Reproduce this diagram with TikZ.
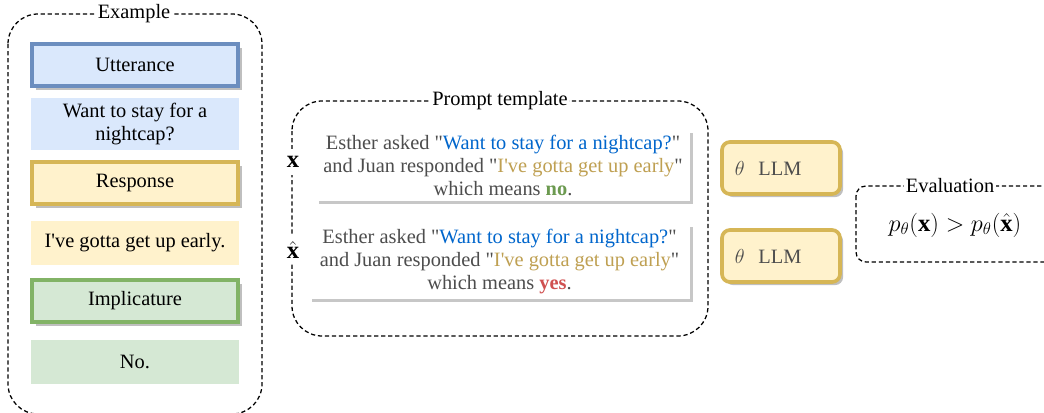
\documentclass[tikz,border=0pt]{standalone}
\usepackage{amsmath, amssymb}
\usepackage{fontspec}
\setmainfont{Liberation Serif}[Ligatures=TeXOff]
\usepackage{xcolor}
\usepackage{tikz}
\usetikzlibrary{shadows}

\definecolor{bluefill}{HTML}{DAE8FC}
\definecolor{blueline}{HTML}{6C8EBF}
\definecolor{goldfill}{HTML}{FFF2CC}
\definecolor{goldline}{HTML}{D6B656}
\definecolor{greenfill}{HTML}{D5E8D4}
\definecolor{greenline}{HTML}{82B366}
\definecolor{qblue}{HTML}{0066CC}
\definecolor{qgold}{RGB}{191,160,82}
\definecolor{qgreen}{RGB}{108,154,80}
\definecolor{qred}{RGB}{208,80,80}
\definecolor{qgray}{RGB}{77,77,77}

\tikzset{
  hdr/.style={draw=#1line, fill=#1fill, line width=2.6pt, minimum width=5.15cm, minimum height=1.05cm,
    drop shadow={shadow xshift=2.8pt, shadow yshift=-2.8pt, fill=black!25, opacity=1}},
  txt/.style={fill=#1fill, minimum width=5.2cm, minimum height=1.1cm, align=center},
  panel/.style={fill=white, text=qgray, align=center,
    drop shadow={shadow xshift=2.2pt, shadow yshift=-2.2pt, fill=black!22, opacity=1}},
  llm/.style={draw=goldline, fill=goldfill, line width=2.6pt, rounded corners=0.2cm,
    minimum width=2.95cm, minimum height=1.3cm, text width=2.3cm, align=left, text=qgray,
    drop shadow={shadow xshift=2.2pt, shadow yshift=-2.2pt, fill=black!25, opacity=1}},
  grp/.style={dashed, dash pattern=on 3pt off 2pt, line width=0.9pt},
  tag/.style={fill=white, inner sep=1pt},
  big/.style={font=\fontsize{17.5}{20}\selectfont},
}

\begin{document}
\begin{tikzpicture}[x=0.025cm, y=-0.025cm, font=\fontsize{14.5}{16.5}\selectfont]
		\useasboundingbox (0,0) rectangle (1044,413);
		% example column
		\draw[grp, rounded corners=0.75cm] (8,14) rectangle (262,414);
		\node[tag] (ex) at (134,14) {Example};
		\node[hdr=blue] (utt) at (135,65) {Utterance};
		\node[txt=blue] (utttxt) at (135,124) {Want to stay for a\\nightcap?};
		\node[hdr=gold] (resp) at (135,183) {Response};
		\node[txt=gold] (resptxt) at (135,243) {I've gotta get up early.};
		\node[hdr=green] (impl) at (135,301) {Implicature};
		\node[txt=green] (impltxt) at (135,362) {No.};
		%
		% prompt template
		\draw[grp, rounded corners=0.75cm] (292,101) rectangle (708,336);
		\node[tag] (pt) at (500,101) {Prompt template};
		\node[panel, minimum width=9.35cm, minimum height=1.775cm] (p1) at (503,165.5)
		{Esther asked "\textcolor{qblue}{Want to stay for a nightcap?}"\\
		 and Juan responded "\textcolor{qgold}{I've gotta get up early}"\\
		 which means \textcolor{qgreen}{\textbf{no}}.};
		\node[panel, minimum width=9.525cm, minimum height=1.825cm] (p2) at (499.5,261.5)
		{Esther asked "\textcolor{qblue}{Want to stay for a nightcap?}"\\
		 and Juan responded "\textcolor{qgold}{I've gotta get up early}"\\
		 which means \textcolor{qred}{\textbf{yes}}.};
		\node[tag, big, inner ysep=5pt] (x) at (293,162) {$\mathbf{x}$};
		\node[tag, big, inner ysep=4pt] (xh) at (293,250) {$\hat{\mathbf{x}}$};
		%
		% models
		\node[llm] (m1) at (781,168) {$\theta$\ \ LLM};
		\node[llm] (m2) at (781,256) {$\theta$\ \ LLM};
		%
		% evaluation
		\draw[grp, rounded corners=0.25cm] (856,186) rectangle (1060,262);
		\node[tag] (ev) at (950,186) {Evaluation};
		\node[big] (cmp) at (955,225) {$p_\theta(\mathbf{x}) > p_\theta(\hat{\mathbf{x}})$};
		\end{tikzpicture}
\end{document}
